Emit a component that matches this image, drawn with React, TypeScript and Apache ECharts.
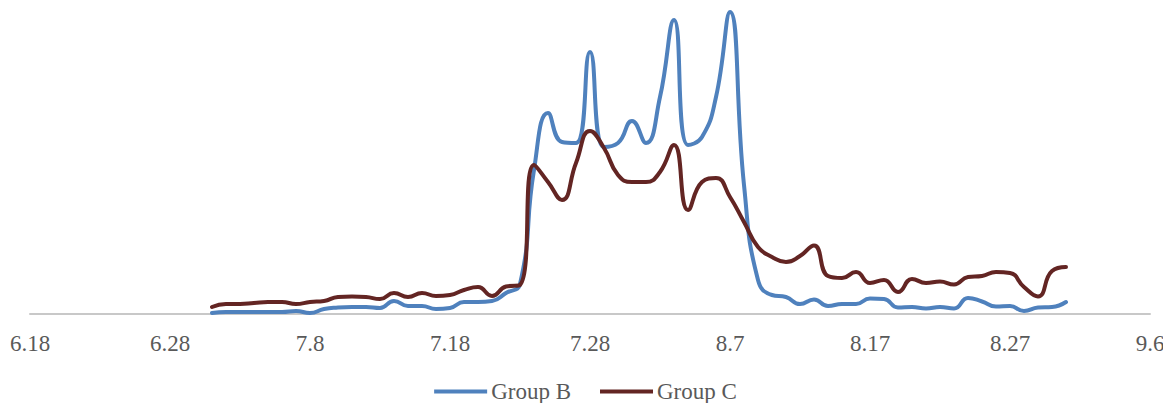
import React, { useEffect, useRef } from "react";
import * as echarts from "echarts";

const categories = [
  "6.18","6.19","6.20","6.21","6.22","6.23","6.24","6.25","6.26","6.27","6.28","6.29","6.30",
  "7.1","7.2","7.3","7.4","7.5","7.6","7.7","7.8","7.9","7.10","7.11","7.12","7.13","7.14","7.15","7.16","7.17","7.18","7.19","7.20","7.21","7.22","7.23","7.24","7.25","7.26","7.27","7.28","7.29","7.30","7.31",
  "8.1","8.2","8.3","8.4","8.5","8.6","8.7","8.8","8.9","8.10","8.11","8.12","8.13","8.14","8.15","8.16","8.17","8.18","8.19","8.20","8.21","8.22","8.23","8.24","8.25","8.26","8.27","8.28","8.29","8.30","8.31",
  "9.1","9.2","9.3","9.4","9.5","9.6",
];

const seriesStart = "7.1";

const groupB = [
  1, 2, 2, 2, 2, 2, 3, 1, 5, 6.5,
  7, 7, 6, 13, 8, 8, 5, 6, 12, 12,
  13, 21, 30, 144, 201, 172, 171, 262, 167, 171,
  193, 171, 217, 294, 169, 177, 217, 302, 129, 34,
  19, 17, 10, 14.5, 8, 10, 10, 15.5, 15, 6.5,
  7, 5.5, 7, 5.5, 16, 12.5, 7.5, 8, 3, 6.5,
  7, 12,
];

const groupC = [
  7, 10, 10, 11, 12, 12, 10, 12, 13, 17,
  17.5, 17, 15, 21, 17, 21, 18, 19, 24, 27,
  18, 27.5, 29, 149, 132, 114, 151, 183, 166, 139,
  132, 132, 142, 169, 104, 132, 136, 117, 92, 67,
  57, 52, 58, 68.5, 38, 36, 42, 31, 34, 22,
  35, 31, 32.5, 29.5, 37, 38, 42, 41, 27, 17.5,
  43, 47,
];

const seriesNames = ["Group B", "Group C"];
const seriesColors = ["#4F81BD", "#632523"];

function align(values: number[]): (number | null)[] {
  const start = categories.indexOf(seriesStart);
  return categories.map((_, i) => {
    const j = i - start;
    return j >= 0 && j < values.length ? values[j] : null;
  });
}

export default function App() {
  const ref = useRef<HTMLDivElement>(null);
  useEffect(() => {
    if (!ref.current) return;
    const chart = echarts.init(ref.current, undefined, { renderer: "svg" });
    const font = "Liberation Serif";
    chart.setOption({
      animation: false,
      backgroundColor: "#ffffff",
      textStyle: { fontFamily: font },
      grid: { left: 30, right: 21, top: 4, bottom: 97, containLabel: false },
      legend: {
        data: seriesNames,
        top: 375,
        left: "center",
        icon: "rect",
        itemWidth: 53,
        itemHeight: 4,
        itemGap: 29,
        textStyle: { fontFamily: font, fontSize: 23, color: "#595959", padding: [0, 0, 0, -1] },
      },
      xAxis: {
        type: "category",
        data: categories,
        boundaryGap: false,
        axisLine: { show: true, lineStyle: { color: "#c8c8c8", width: 2 } },
        axisTick: { show: false },
        splitLine: { show: false },
        axisLabel: {
          interval: 9,
          margin: 18,
          fontFamily: font,
          fontSize: 23,
          color: "#595959",
        },
      },
      yAxis: {
        type: "value",
        min: 0,
        max: 310,
        show: false,
        splitLine: { show: false },
      },
      series: [groupB, groupC].map((vals, i) => ({
        name: seriesNames[i],
        type: "line",
        data: align(vals),
        smooth: 0.5,
        symbol: "none",
        showSymbol: false,
        connectNulls: false,
        lineStyle: { color: seriesColors[i], width: 4, cap: "round", join: "round" },
        itemStyle: { color: seriesColors[i] },
      })),
    });
    return () => chart.dispose();
  }, []);
  return <div ref={ref} style={{ width: 1171, height: 411, margin: -8 }} />;
}
